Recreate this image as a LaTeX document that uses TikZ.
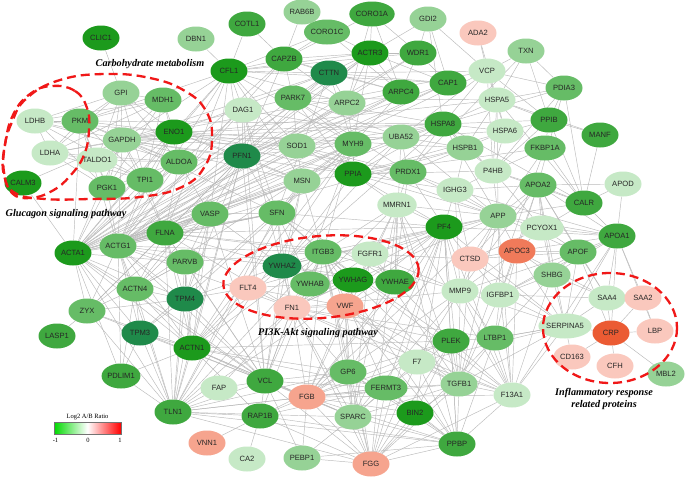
\documentclass[tikz,border=0pt]{standalone}
\usepackage{fontspec}
\newfontfamily\nodefont{Liberation Sans}
\newfontfamily\capfont{Liberation Serif}
\usetikzlibrary{shapes.geometric,backgrounds}
\definecolor{gA}{HTML}{1C9A1C}
\definecolor{tl}{HTML}{1F8A4A}
\definecolor{gB}{HTML}{3FA83F}
\definecolor{gC}{HTML}{66BC66}
\definecolor{gD}{HTML}{96D296}
\definecolor{gE}{HTML}{C6E9C6}
\definecolor{pA}{HTML}{FAC8BD}
\definecolor{pB}{HTML}{F6A48E}
\definecolor{oA}{HTML}{F07A5A}
\definecolor{oB}{HTML}{EB5B33}
\definecolor{grp}{HTML}{F01818}
\begin{document}
\begin{tikzpicture}[x=1pt,y=-1pt,
  prot/.style={ellipse, minimum width=37pt, minimum height=25pt, inner xsep=0pt, inner ysep=0.5pt,
    font=\nodefont\fontsize{7.6}{8}\selectfont, text=black!85},
  edge/.style={draw=black!27, line width=0.45pt},
  grpline/.style={draw=grp, line width=2.3pt, dash pattern=on 9pt off 5pt},
  caption/.style={font=\capfont\bfseries\itshape\fontsize{10.2}{11.5}\selectfont, align=center, inner sep=0pt},
  legtext/.style={font=\capfont\fontsize{6.5}{7}\selectfont, inner sep=0pt}]
\useasboundingbox (0,0) rectangle (685,477);

\foreach \n/\x/\y/\c in {
CLIC1/101/38/gA, DBN1/196/39/gD, COTL1/247/24/gB, RAB6B/302/12/gD, CORO1A/372/14/gB,
CORO1C/327/32/gC, GDI2/428/19/gD, ADA2/478/33/pA, TXN/526/51/gD, CAPZB/284/59/gB,
ACTR3/370/53/gA, WDR1/418/53/gB, VCP/487/71/gE, CFL1/229/71/gA, CTTN/329/73/tl,
CAP1/448/83/gB, PDIA3/564/88/gC, GPI/121/93/gD, MDH1/163/100/gC, DAG1/243/110/gE,
PARK7/293/98/gC, ARPC2/347/103/gD, ARPC4/401/92/gB, HSPA5/497/100/gE, PPIB/549/120/gB,
MANF/600/135/gB, LDHB/35/121/gE, PKM/80/121/gC, GAPDH/122/140/gD, ENO1/174/132/gA,
HSPA8/443/124/gB, HSPA6/505/131/gE, FKBP1A/545/148/gC, LDHA/50/153/gE, TALDO1/97/160/gE,
ALDOA/179/162/gC, PFN1/242/156/tl, SOD1/297/146/gD, MYH9/353/144/gC, UBA52/401/137/gD,
HSPB1/465/148/gD, P4HB/493/171/gE, CALM3/23/183/gA, PGK1/107/188/gC, TPI1/145/180/gC,
MSN/302/181/gD, PPIA/353/174/gA, PRDX1/408/172/gC, IGHG3/455/190/gE, APOA2/538/185/gC,
APOD/623/184/gE, CALR/584/203/gB, VASP/210/214/gC, SFN/277/213/gC, MMRN1/397/205/gE,
APP/498/216/gD, PCYOX1/542/228/gE, ACTA1/73/253/gA, ACTG1/118/246/gC, FLNA/165/233/gB,
PF4/444/227/gA, APOC3/517/251/oA, APOA1/617/236/gB, APOF/578/252/gC, PARVB/185/262/gC,
ITGB3/323/252/gC, FGFR1/370/254/gE, CTSD/470/259/pA, SHBG/552/275/gD, YWHAZ/282/266/tl,
YWHAB/310/284/gC, YWHAG/353/280/gA, YWHAE/395/282/gB, FLT4/248/288/pA, MMP9/460/291/gE,
IGFBP1/500/295/gE, SAA4/607/298/gE, SAA2/643/298/pA, ACTN4/135/289/gC, ZYX/87/311/gC,
TPM4/185/299/tl, FN1/292/308/pA, VWF/345/306/pB, LASP1/57/336/gB, TPM3/140/333/tl,
SERPINA5/565/326/gE, CRP/611/333/oB, LBP/655/331/pA, ACTN1/192/348/gA, PLEK/451/341/gB,
LTBP1/495/338/gC, CD163/572/357/pA, CFH/615/366/pA, PDLIM1/121/376/gB, F7/417/362/gE,
GP6/348/372/gC, FERMT3/386/388/gC, TGFB1/459/384/gD, F13A1/512/395/gE, MBL2/666/374/gD,
FAP/219/388/gE, VCL/265/381/gB, FGB/307/397/pB, TLN1/173/412/gB, RAP1B/260/416/gB,
SPARC/353/417/gD, BIN2/415/413/gA, VNN1/207/443/pB, CA2/247/459/gE, PEBP1/302/458/gD,
FGG/371/464/pB, PPBP/457/444/gB}
  \node[prot, fill=\c] (\n) at (\x,\y) {\n};

\begin{scope}[on background layer]
\fill[white] (0,0) rectangle (685,477);
\foreach \a/\b in {
CLIC1/GPI, DBN1/CFL1, COTL1/CAPZB, COTL1/CFL1, RAB6B/CAPZB, CORO1C/CAPZB, CORO1C/ACTR3, CORO1C/CFL1,
CORO1A/ACTR3, CORO1A/CAPZB, CORO1A/WDR1, GDI2/WDR1, GDI2/HSPA8, GDI2/CAP1, GDI2/ACTR3, GDI2/VCP,
ADA2/VCP, ADA2/HSPA5, TXN/VCP, TXN/PDIA3, TXN/PPIB, TXN/HSPA5, TXN/PRDX1,
CAPZB/ACTR3, CAPZB/CFL1, CAPZB/CTTN, CAPZB/PFN1, CAPZB/ACTG1, CAPZB/ACTA1, CAPZB/ARPC2, CAPZB/ARPC4, CAPZB/PARK7,
ACTR3/ARPC4, ACTR3/ARPC2, ACTR3/CTTN, ACTR3/WDR1, ACTR3/CFL1, ACTR3/ACTA1, ACTR3/ACTG1, ACTR3/PFN1, ACTR3/MYH9, ACTR3/CAP1,
WDR1/CFL1, WDR1/CAP1, WDR1/ACTG1, WDR1/ARPC4, WDR1/PFN1,
VCP/HSPA5, VCP/HSPA8, VCP/UBA52, VCP/P4HB, VCP/PDIA3, VCP/ACTG1, VCP/HSPA6, VCP/GAPDH, VCP/PPIB,
CFL1/PFN1, CFL1/ACTG1, CFL1/ACTA1, CFL1/CTTN, CFL1/CAP1, CFL1/DAG1, CFL1/ENO1, CFL1/GAPDH, CFL1/MSN, CFL1/VASP,
CFL1/FLNA, CFL1/ARPC2, CFL1/PKM, CFL1/SOD1, CFL1/MYH9,
CTTN/ARPC2, CTTN/ARPC4, CTTN/ACTG1, CTTN/ACTA1, CTTN/PFN1, CTTN/CAP1, CTTN/VCP, CTTN/SFN, CTTN/MYH9, CTTN/ENO1, CTTN/GAPDH,
CAP1/ACTG1, CAP1/PFN1, CAP1/ACTA1,
PDIA3/P4HB, PDIA3/CALR, PDIA3/HSPA5, PDIA3/PPIB, PDIA3/HSPA8, PDIA3/APOA2,
GPI/GAPDH, GPI/PKM, GPI/ENO1, GPI/TPI1, GPI/PGK1, GPI/ALDOA, GPI/LDHA, GPI/MDH1, GPI/TALDO1, GPI/LDHB,
MDH1/GAPDH, MDH1/ENO1, MDH1/PKM, MDH1/LDHA, MDH1/LDHB, MDH1/TPI1, MDH1/ALDOA, MDH1/PGK1,
DAG1/ACTG1, DAG1/ACTA1, DAG1/FN1, DAG1/SFN, DAG1/PFN1, DAG1/VCL, DAG1/UBA52,
PARK7/SOD1, PARK7/PRDX1, PARK7/HSPA8, PARK7/GAPDH, PARK7/PPIA, PARK7/UBA52, PARK7/HSPA5, PARK7/MYH9,
ARPC2/ARPC4, ARPC2/ACTG1, ARPC2/ACTA1, ARPC2/PFN1, ARPC2/MYH9, ARPC2/CORO1A,
ARPC4/ACTG1, ARPC4/ACTA1, ARPC4/PFN1, ARPC4/CORO1A, ARPC4/MYH9, ARPC4/CORO1C,
HSPA5/HSPA8, HSPA5/P4HB, HSPA5/CALR, HSPA5/PPIB, HSPA5/HSPA6, HSPA5/HSPB1, HSPA5/APP,
PPIB/FKBP1A, PPIB/CALR, PPIB/P4HB, PPIB/MANF, PPIB/PPIA, PPIB/HSPA8, MANF/CALR, MANF/HSPA5,
LDHB/LDHA, LDHB/PKM, LDHB/GAPDH, LDHB/ENO1, LDHB/TPI1, LDHB/PGK1, LDHB/ALDOA,
PKM/GAPDH, PKM/LDHA, PKM/ENO1, PKM/TPI1, PKM/PGK1, PKM/ALDOA, PKM/TALDO1, PKM/ACTG1, PKM/ACTA1, PKM/HSPA8,
GAPDH/ENO1, GAPDH/LDHA, GAPDH/ALDOA, GAPDH/TPI1, GAPDH/PGK1, GAPDH/TALDO1, GAPDH/ACTG1, GAPDH/ACTA1, GAPDH/HSPA8,
GAPDH/PFN1, GAPDH/SOD1, GAPDH/UBA52, GAPDH/MSN, GAPDH/PPIA, GAPDH/HSPA5, GAPDH/CALM3, GAPDH/FLNA, GAPDH/SFN,
ENO1/ALDOA, ENO1/TPI1, ENO1/PGK1, ENO1/LDHA, ENO1/TALDO1, ENO1/ACTG1, ENO1/ACTA1, ENO1/HSPA8, ENO1/PFN1,
ENO1/SOD1, ENO1/PPIA, ENO1/MSN, ENO1/HSPB1, ENO1/PRDX1,
HSPA8/HSPA6, HSPA8/HSPB1, HSPA8/UBA52, HSPA8/P4HB, HSPA8/CALR, HSPA8/APP, HSPA8/YWHAZ, HSPA8/ACTG1,
HSPA8/PPIA, HSPA8/PRDX1, HSPA8/SOD1, HSPA8/MYH9,
HSPA6/HSPB1, HSPA6/P4HB, HSPA6/UBA52,
FKBP1A/CALR, FKBP1A/P4HB, FKBP1A/PPIA, FKBP1A/TGFB1, FKBP1A/APP,
LDHA/TALDO1, LDHA/ALDOA, LDHA/TPI1, LDHA/PGK1,
TALDO1/ALDOA, TALDO1/TPI1, TALDO1/PGK1,
ALDOA/TPI1, ALDOA/PGK1, ALDOA/ACTG1, ALDOA/ACTA1, ALDOA/PFN1, ALDOA/FLNA, ALDOA/VASP,
PFN1/ACTG1, PFN1/ACTA1, PFN1/VASP, PFN1/FLNA, PFN1/TPM4, PFN1/MSN, PFN1/SFN, PFN1/VCL, PFN1/TLN1,
PFN1/ACTN1, PFN1/ACTN4, PFN1/MYH9, PFN1/ZYX,
SOD1/PRDX1, SOD1/PPIA, SOD1/UBA52, SOD1/MSN, SOD1/APP, SOD1/ACTG1,
MYH9/ACTG1, MYH9/ACTA1, MYH9/ACTN1, MYH9/ACTN4, MYH9/FLNA, MYH9/MSN, MYH9/TPM4, MYH9/TPM3, MYH9/VCL,
MYH9/TLN1, MYH9/ITGB3, MYH9/PPIA,
UBA52/PPIA, UBA52/HSPB1, UBA52/YWHAZ, UBA52/YWHAE, UBA52/PRDX1, UBA52/APP, UBA52/ACTG1,
HSPB1/P4HB, HSPB1/PRDX1, HSPB1/IGHG3, HSPB1/ACTG1, HSPB1/PPIA,
P4HB/APP, P4HB/CALR, P4HB/IGHG3, P4HB/APOA2, P4HB/PCYOX1, P4HB/PPIA,
CALM3/ACTA1, PGK1/TPI1, PGK1/ACTG1, PGK1/ACTA1, TPI1/ACTG1, TPI1/FLNA, TPI1/ACTA1,
MSN/ACTG1, MSN/ACTA1, MSN/FLNA, MSN/VCL, MSN/TLN1, MSN/ACTN1, MSN/PPIA, MSN/YWHAZ, MSN/SFN, MSN/ITGB3,
PPIA/PRDX1, PPIA/YWHAZ, PPIA/IGHG3, PPIA/APP, PPIA/PF4, PPIA/MMRN1,
PRDX1/IGHG3, PRDX1/APP, PRDX1/YWHAE, PRDX1/PF4, PRDX1/MMRN1,
IGHG3/APP, IGHG3/APOA2, IGHG3/APOA1, IGHG3/PF4, IGHG3/CTSD, IGHG3/MMP9,
APOA2/APOA1, APOA2/APOC3, APOA2/APOF, APOA2/APOD, APOA2/CALR, APOA2/PCYOX1, APOA2/SHBG, APOA2/APP,
APOA2/SAA4, APOA2/IGFBP1, APOA2/SERPINA5, APOA2/MMP9, APOA2/CTSD,
APOD/APOA1, APOD/CALR, CALR/APOA1, CALR/APP, CALR/PCYOX1,
VASP/ACTG1, VASP/ACTA1, VASP/ZYX, VASP/FLNA, VASP/VCL, VASP/TLN1, VASP/ACTN1, VASP/ACTN4, VASP/PARVB,
VASP/SFN, VASP/TPM4, VASP/MSN, VASP/YWHAZ,
SFN/YWHAZ, SFN/YWHAB, SFN/YWHAG, SFN/YWHAE, SFN/ACTG1, SFN/ITGB3, SFN/FN1, SFN/FLNA, SFN/PF4, SFN/TLN1,
MMRN1/PF4, MMRN1/ITGB3, MMRN1/VWF, MMRN1/FN1, MMRN1/FGB, MMRN1/FGG, MMRN1/PPBP, MMRN1/F13A1, MMRN1/SPARC,
MMRN1/TGFB1, MMRN1/YWHAE, MMRN1/APP,
APP/PF4, APP/CTSD, APP/MMP9, APP/IGFBP1, APP/APOA1, APP/APOC3, APP/TGFB1, APP/FGFR1, APP/F13A1, APP/PCYOX1,
APP/YWHAZ, APP/FGB, APP/FN1, APP/APOF,
PCYOX1/APOA1, PCYOX1/APOC3, PCYOX1/APOF, PCYOX1/SHBG, PCYOX1/CTSD,
ACTA1/ACTG1, ACTA1/ACTN1, ACTA1/ACTN4, ACTA1/FLNA, ACTA1/VCL, ACTA1/TLN1, ACTA1/ZYX, ACTA1/TPM3, ACTA1/TPM4,
ACTA1/PARVB, ACTA1/PDLIM1, ACTA1/VASP, ACTA1/SFN,
ACTG1/ACTN1, ACTG1/ACTN4, ACTG1/FLNA, ACTG1/VCL, ACTG1/TLN1, ACTG1/ZYX, ACTG1/TPM3, ACTG1/TPM4, ACTG1/PARVB,
ACTG1/PDLIM1, ACTG1/SFN, ACTG1/YWHAZ, ACTG1/ITGB3, ACTG1/FN1,
FLNA/ACTN1, FLNA/ACTN4, FLNA/VCL, FLNA/TLN1, FLNA/ITGB3, FLNA/PARVB, FLNA/FN1, FLNA/YWHAZ, FLNA/TPM4,
FLNA/ZYX, FLNA/FGFR1, FLNA/PF4,
PF4/ITGB3, PF4/PPBP, PF4/FGB, PF4/FGG, PF4/VWF, PF4/FN1, PF4/TGFB1, PF4/SPARC, PF4/F13A1, PF4/GP6, PF4/PLEK,
PF4/TLN1, PF4/CTSD, PF4/MMP9, PF4/FGFR1, PF4/YWHAZ, PF4/BIN2, PF4/FERMT3, PF4/SERPINA5, PF4/APOA1,
APOC3/APOA1, APOC3/APOF, APOC3/SHBG, APOC3/SAA4, APOC3/IGFBP1, APOC3/SERPINA5, APOC3/CTSD, APOC3/LTBP1,
APOC3/MMP9, APOC3/F13A1,
APOA1/APOF, APOA1/SHBG, APOA1/SAA4, APOA1/SAA2, APOA1/CRP, APOA1/SERPINA5, APOA1/LBP, APOA1/IGFBP1, APOA1/F13A1,
APOF/SHBG, APOF/SAA4, APOF/SERPINA5, APOF/IGFBP1, APOF/CRP, APOF/MMP9,
PARVB/ACTN1, PARVB/ACTN4, PARVB/VCL, PARVB/TLN1, PARVB/ITGB3, PARVB/TPM4,
ITGB3/FGB, ITGB3/FGG, ITGB3/FN1, ITGB3/VWF, ITGB3/VCL, ITGB3/TLN1, ITGB3/FERMT3, ITGB3/GP6, ITGB3/PPBP,
ITGB3/YWHAZ, ITGB3/YWHAB, ITGB3/ACTN1, ITGB3/FGFR1, ITGB3/RAP1B, ITGB3/SPARC, ITGB3/TGFB1, ITGB3/PLEK,
ITGB3/MMP9, ITGB3/F13A1,
FGFR1/YWHAE, FGFR1/FN1, FGFR1/FLT4, FGFR1/VWF, FGFR1/TGFB1, FGFR1/SPARC, FGFR1/CTSD, FGFR1/MMP9,
CTSD/MMP9, CTSD/IGFBP1, CTSD/TGFB1, CTSD/APOF, CTSD/SERPINA5,
SHBG/IGFBP1, SHBG/SAA4, SHBG/SERPINA5, SHBG/LTBP1, SHBG/F13A1,
YWHAZ/YWHAB, YWHAZ/YWHAG, YWHAZ/YWHAE, YWHAZ/FN1, YWHAZ/FLT4, YWHAZ/TPM4, YWHAZ/ACTN1, YWHAZ/VCL,
YWHAB/YWHAG, YWHAB/YWHAE, YWHAB/FN1, YWHAB/FLT4, YWHAG/YWHAE, YWHAG/VWF, YWHAG/FN1,
YWHAE/VWF, YWHAE/FGB, YWHAE/PLEK, FLT4/FN1, FLT4/VWF, FLT4/TPM4, FLT4/ACTN1,
MMP9/IGFBP1, MMP9/TGFB1, MMP9/FN1, MMP9/LTBP1, MMP9/F13A1, MMP9/SERPINA5, MMP9/FGB, MMP9/F7, MMP9/SPARC,
IGFBP1/LTBP1, IGFBP1/TGFB1, IGFBP1/SERPINA5, IGFBP1/F13A1, IGFBP1/SAA4,
SAA4/SAA2, SAA4/CRP, SAA4/SERPINA5, SAA2/CRP, SAA2/LBP,
ACTN4/ACTN1, ACTN4/ZYX, ACTN4/VCL, ACTN4/TLN1, ACTN4/TPM4, ACTN4/TPM3, ACTN4/PDLIM1, ACTN4/PARVB,
ZYX/LASP1, ZYX/ACTN1, ZYX/VCL, ZYX/TLN1, ZYX/TPM4,
TPM4/TPM3, TPM4/ACTN1, TPM4/VCL, TPM4/TLN1,
FN1/VWF, FN1/FGB, FN1/FGG, FN1/VCL, FN1/TLN1, FN1/SPARC, FN1/TGFB1, FN1/F13A1, FN1/LTBP1, FN1/GP6, FN1/FAP, FN1/PLEK,
VWF/FGB, VWF/FGG, VWF/GP6, VWF/F13A1, VWF/SPARC, VWF/PPBP, VWF/TGFB1, VWF/F7,
TPM3/ACTN1, TPM3/PDLIM1, TPM3/TLN1, TPM3/VCL,
SERPINA5/CRP, SERPINA5/F13A1, SERPINA5/LTBP1, SERPINA5/F7, SERPINA5/TGFB1, SERPINA5/CD163,
CRP/LBP, CRP/CFH, CRP/CD163, CRP/MBL2,
ACTN1/VCL, ACTN1/TLN1, ACTN1/PDLIM1, ACTN1/FGB, ACTN1/RAP1B, ACTN1/FERMT3, ACTN1/PLEK, ACTN1/GP6, ACTN1/SPARC,
PLEK/PPBP, PLEK/TGFB1, PLEK/F13A1, PLEK/LTBP1, PLEK/FERMT3, PLEK/BIN2, PLEK/GP6, PLEK/FGB, PLEK/FGG,
LTBP1/TGFB1, LTBP1/F13A1, LTBP1/PPBP, LTBP1/FGG, LTBP1/SERPINA5, PDLIM1/TLN1,
F7/F13A1, F7/FGB, F7/FGG, F7/TGFB1, F7/PPBP, F7/SPARC,
GP6/FERMT3, GP6/FGB, GP6/FGG, GP6/TLN1, GP6/VCL, GP6/PPBP, GP6/BIN2, GP6/SPARC, GP6/RAP1B,
FERMT3/TLN1, FERMT3/FGB, FERMT3/FGG, FERMT3/PPBP, FERMT3/BIN2, FERMT3/RAP1B, FERMT3/TGFB1, FERMT3/SPARC, FERMT3/VCL,
TGFB1/F13A1, TGFB1/PPBP, TGFB1/FGG, TGFB1/FGB, TGFB1/SPARC, TGFB1/BIN2,
F13A1/FGG, F13A1/FGB, F13A1/PPBP, FAP/VCL, FAP/TLN1,
VCL/TLN1, VCL/FGB, VCL/RAP1B, VCL/FGG, VCL/PEBP1, VCL/SPARC,
FGB/FGG, FGB/PPBP, FGB/SPARC, FGB/TLN1, FGB/RAP1B, FGB/PEBP1, FGB/BIN2,
TLN1/RAP1B, TLN1/FGG, TLN1/PPBP, TLN1/SPARC,
RAP1B/VNN1, RAP1B/CA2, RAP1B/PPBP, RAP1B/FGG,
SPARC/FGG, SPARC/PPBP, SPARC/PEBP1, SPARC/BIN2, BIN2/PPBP, BIN2/FGG, PEBP1/FGG, PEBP1/PPBP, FGG/PPBP}
  \draw[edge] (\a) -- (\b);
\end{scope}

% group outlines
\draw[grpline] plot[smooth cycle, tension=0.75] coordinates {
  (105,74) (150,78) (185,91) (206,111) (212,138) (205,166) (182,187) (140,197) (90,199)
  (45,199) (15,193) (4,175) (4,150) (12,122) (27,98) (60,80)};
\draw[grpline] plot[smooth cycle, tension=0.75] coordinates {
  (52,86) (75,91) (87,108) (89,130) (84,155) (70,176) (52,191) (30,198) (12,193)
  (4,172) (5,145) (13,115) (30,94)};
\draw[grpline, rotate around={5:(321,277)}] (321,277) ellipse [x radius=98, y radius=41];
\draw[grpline] (610,328) ellipse [x radius=67, y radius=55];

% captions
\node[caption] (capcarb) at (150,64) {Carbohydrate metabolism};
\node[caption] (capgluc) at (66,214) {Glucagon signaling pathway};
\node[caption] (cappi3k) at (318,333) {PI3K-Akt signaling pathway};
\node[caption] (capinfl) at (604,399) {Inflammatory response\\related proteins};

% legend
\node[legtext] (legtitle) at (87.5,417) {Log2 A/B Ratio};
\shade[left color=green!85!black, right color=red, middle color=white] (54,422) rectangle (121,434);
\draw[black!55, line width=0.6pt] (54,422) rectangle (121,434);
\node[legtext] (legm) at (55.5,440) {-1};
\node[legtext] (legz) at (88,440) {0};
\node[legtext] (legp) at (120,440) {1};
\end{tikzpicture}
\end{document}
